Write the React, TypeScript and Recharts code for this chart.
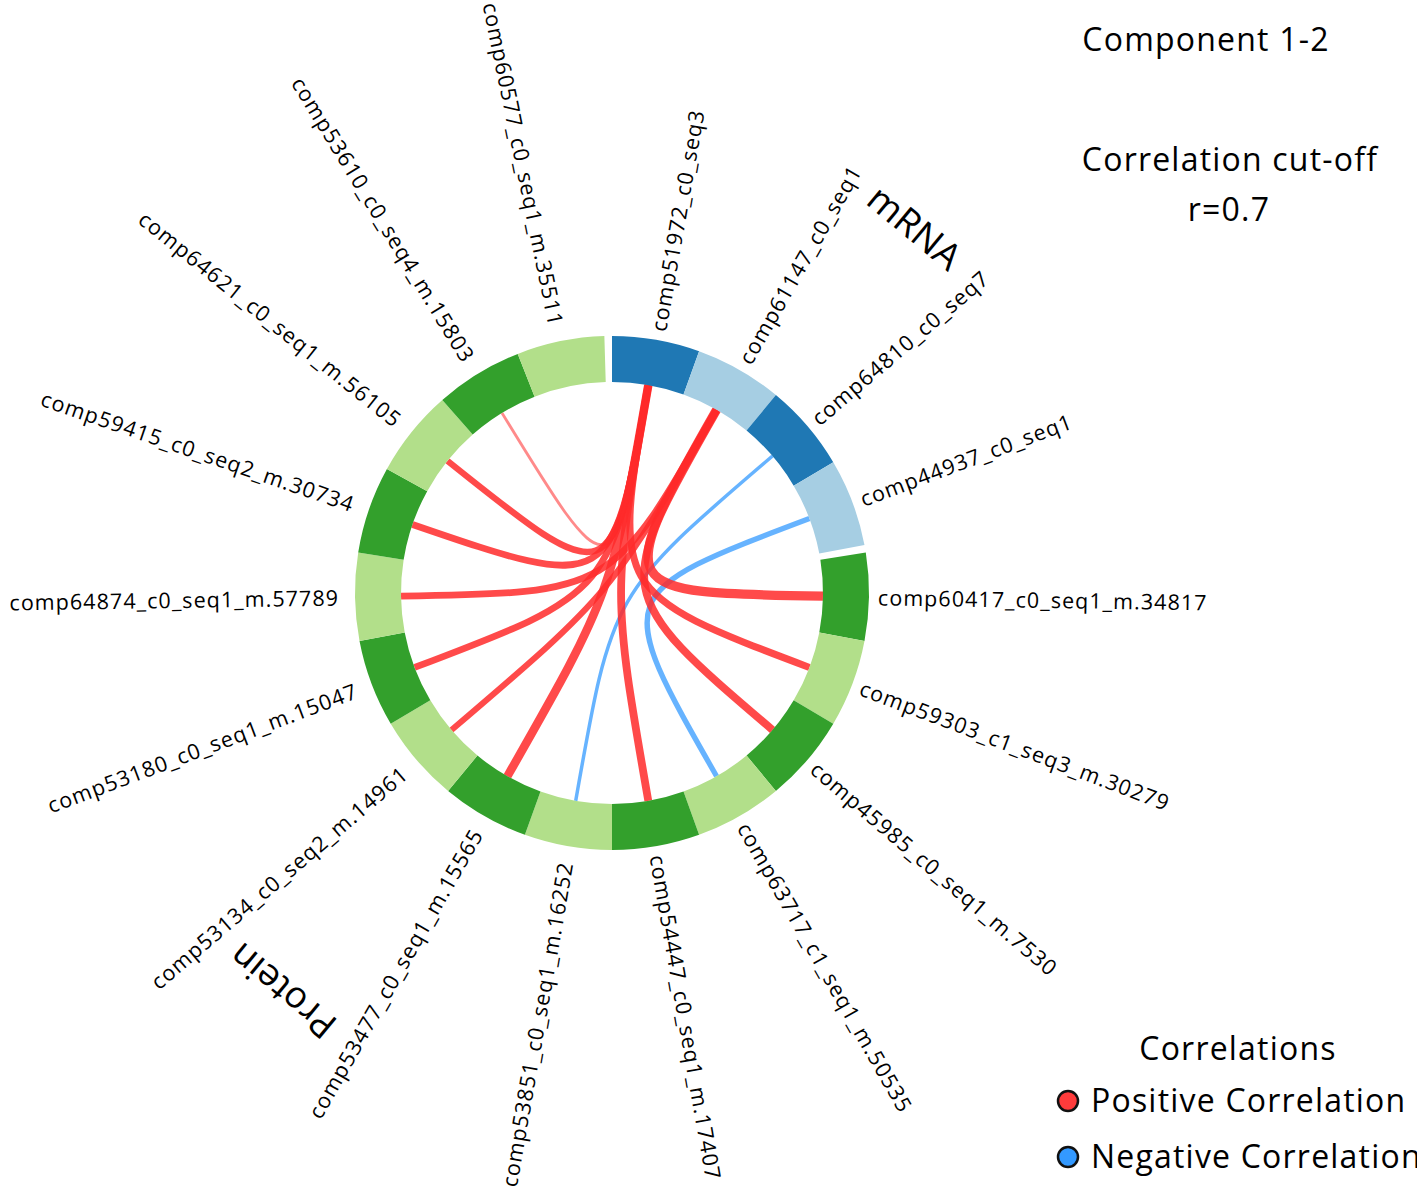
import React from 'react';
import { PieChart, Pie, Cell, Customized } from 'recharts';

// ---- data ----
const mrnaIds = ['comp51972_c0_seq3', 'comp61147_c0_seq1', 'comp64810_c0_seq7', 'comp44937_c0_seq1'];
const proteinIds = [
  'comp60417_c0_seq1_m.34817',
  'comp59303_c1_seq3_m.30279',
  'comp45985_c0_seq1_m.7530',
  'comp63717_c1_seq1_m.50535',
  'comp54447_c0_seq1_m.17407',
  'comp53851_c0_seq1_m.16252',
  'comp53477_c0_seq1_m.15565',
  'comp53134_c0_seq2_m.14961',
  'comp53180_c0_seq1_m.15047',
  'comp64874_c0_seq1_m.57789',
  'comp59415_c0_seq2_m.30734',
  'comp64621_c0_seq1_m.56105',
  'comp53610_c0_seq4_m.15803',
  'comp60577_c0_seq1_m.35511',
];
// correlation links (mRNA -> protein, r)
const linkMrna = [
  'comp61147_c0_seq1', 'comp51972_c0_seq3', 'comp61147_c0_seq1', 'comp44937_c0_seq1',
  'comp51972_c0_seq3', 'comp64810_c0_seq7', 'comp51972_c0_seq3', 'comp61147_c0_seq1',
  'comp51972_c0_seq3', 'comp61147_c0_seq1', 'comp51972_c0_seq3', 'comp51972_c0_seq3',
  'comp51972_c0_seq3',
];
const linkProtein = [
  'comp60417_c0_seq1_m.34817', 'comp59303_c1_seq3_m.30279', 'comp45985_c0_seq1_m.7530', 'comp63717_c1_seq1_m.50535',
  'comp54447_c0_seq1_m.17407', 'comp53851_c0_seq1_m.16252', 'comp53477_c0_seq1_m.15565', 'comp53134_c0_seq2_m.14961',
  'comp53180_c0_seq1_m.15047', 'comp64874_c0_seq1_m.57789', 'comp59415_c0_seq2_m.30734', 'comp64621_c0_seq1_m.56105',
  'comp53610_c0_seq4_m.15803',
];
const linkR = [0.89, 0.83, 0.85, -0.78, 0.85, -0.73, 0.87, 0.8, 0.82, 0.82, 0.82, 0.81, 0.71];

const GAP = 0.086;
const titleLines = ['Component 1-2', 'Correlation cut-off', 'r=0.7'];
const legendTitle = 'Correlations';
const legendItems = ['Positive Correlation', 'Negative Correlation'];

// ---- layout / style ----
const W = 1417;
const H = 1189;
const CX = 612;
const CY = 593;
const R_IN = 211;
const R_OUT = 257;
const FONT = "'Open Sans', sans-serif";
const DARK_BLUE = '#1f78b4';
const LIGHT_BLUE = '#a6cee3';
const DARK_GREEN = '#33a02c';
const LIGHT_GREEN = '#b2df8a';
const POS = '#ff2a2a';
const NEG = '#3399ff';

const ringData = [
  ...mrnaIds.map((id, i) => ({ name: id, value: 1, gap: false, fill: i % 2 ? LIGHT_BLUE : DARK_BLUE })),
  { name: 'gap-a', value: GAP, gap: true, fill: 'none' },
  ...proteinIds.map((id, i) => ({ name: id, value: 1, gap: false, fill: i % 2 ? LIGHT_GREEN : DARK_GREEN })),
  { name: 'gap-b', value: GAP, gap: true, fill: 'none' },
];
const total = ringData.reduce((s, d) => s + d.value, 0);
const midAngleOf = (name: string) => {
  let cum = 0;
  for (const d of ringData) {
    if (d.name === name) return 90 - ((cum + d.value / 2) / total) * 360;
    cum += d.value;
  }
  return 0;
};
const RAD = Math.PI / 180;
const polar = (r: number, a: number) => [CX + r * Math.cos(a * RAD), CY - r * Math.sin(a * RAD)];

const renderLabel = (props: any) => {
  const { midAngle, payload, index } = props;
  const entry = ringData[index] || payload;
  if (!entry || entry.gap) return null;
  const a = midAngle;
  const right = Math.cos(a * RAD) >= 0;
  const [x, y] = polar(right ? 266 : 273, a);
  const rot = right ? -a : 180 - a;
  return (
    <text
      key={entry.name}
      x={x}
      y={y}
      transform={`rotate(${rot} ${x} ${y})`}
      textAnchor={right ? 'start' : 'end'}
      dominantBaseline="central"
      fontFamily={FONT}
      fontSize={21.5}
      letterSpacing={1.05}
      fill="#000"
    >
      {entry.name}
    </text>
  );
};

const ChordLayer = () => {
  const idx = linkR.map((_, i) => i);
  const order = [...idx.filter((i) => linkR[i] < 0), ...idx.filter((i) => linkR[i] >= 0)];
  return (
    <g>
      {order.map((i) => {
        const a1 = midAngleOf(linkMrna[i]);
        const a2 = midAngleOf(linkProtein[i]);
        const [x1, y1] = polar(R_IN, a1);
        const [x2, y2] = polar(R_IN, a2);
        const r = Math.abs(linkR[i]);
        const w = 2.4 + (r - 0.7) * 36;
        const op = r < 0.72 ? 0.55 : linkR[i] < 0 ? 0.75 : 0.85;
        return (
          <path
            key={i}
            d={`M${x1},${y1} C${CX},${CY} ${CX},${CY} ${x2},${y2}`}
            fill="none"
            stroke={linkR[i] >= 0 ? POS : NEG}
            strokeWidth={w}
            strokeOpacity={op}
          />
        );
      })}
    </g>
  );
};

const GroupLabels = () => {
  const mA = (midAngleOf(mrnaIds[1]) + midAngleOf(mrnaIds[2])) / 2;
  const pA = (midAngleOf(proteinIds[6]) + midAngleOf(proteinIds[7])) / 2;
  const [mx, my] = polar(476, mA);
  const [px, py] = polar(518, pA);
  return (
    <g fontFamily={FONT} fontSize={37} fill="#000">
      <text x={mx} y={my} textAnchor="middle" dominantBaseline="central" transform={`rotate(${90 - mA} ${mx} ${my})`}>mRNA</text>
      <text x={px} y={py} textAnchor="middle" dominantBaseline="central" transform={`rotate(${90 - pA} ${px} ${py})`}>Protein</text>
    </g>
  );
};

const Annotations = () => (
  <g fontFamily={FONT} fill="#000" fontSize={32} letterSpacing={1.2}>
    <text x={1206} y={38} textAnchor="middle" dominantBaseline="central">{titleLines[0]}</text>
    <text x={1230} y={158} textAnchor="middle" dominantBaseline="central">{titleLines[1]}</text>
    <text x={1229} y={208} textAnchor="middle" dominantBaseline="central">{titleLines[2]}</text>
    <text x={1238} y={1047} textAnchor="middle" dominantBaseline="central">{legendTitle}</text>
    {legendItems.map((t, i) => (
      <g key={t}>
        <circle cx={1068} cy={1101 + i * 56} r={10} fill={i === 0 ? '#ff3b3b' : NEG} stroke="#111" strokeWidth={2.5} />
        <text x={1091} y={1099 + i * 56} dominantBaseline="central">{t}</text>
      </g>
    ))}
  </g>
);

export default function App() {
  return (
    <div style={{ position: 'absolute', left: 0, top: 0, width: W, height: H, background: '#fff' }}>
      <PieChart width={W} height={H} margin={{ top: 0, right: 0, bottom: 0, left: 0 }}>
        <Pie
          data={ringData}
          dataKey="value"
          nameKey="name"
          cx={CX}
          cy={CY}
          innerRadius={R_IN}
          outerRadius={R_OUT}
          startAngle={90}
          endAngle={-270}
          paddingAngle={0}
          stroke="none"
          label={renderLabel}
          labelLine={false}
          isAnimationActive={false}
        >
          {ringData.map((d) => (
            <Cell key={d.name} fill={d.fill} stroke="none" />
          ))}
        </Pie>
        <Customized component={ChordLayer} />
        <Customized component={GroupLabels} />
        <Customized component={Annotations} />
      </PieChart>
    </div>
  );
}
